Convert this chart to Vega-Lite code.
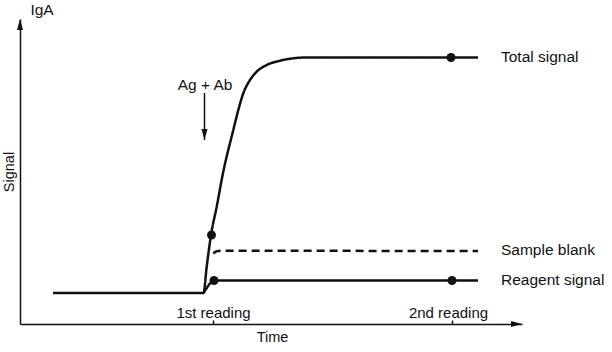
{
  "$schema": "https://vega.github.io/schema/vega-lite/v6.json",
  "width": 502,
  "height": 305,
  "autosize": {"type": "none"},
  "padding": {"left": 20, "top": 19, "right": 90, "bottom": 28},
  "config": {"font": "Liberation Sans", "view": {"stroke": null}},
  "datasets": {
    "curves": [
      {"series": "Total signal", "t": 33, "s": 31},
      {"series": "Total signal", "t": 183.5, "s": 31},
      {"series": "Total signal", "t": 186.7, "s": 57.3},
      {"series": "Total signal", "t": 191, "s": 89},
      {"series": "Total signal", "t": 196.7, "s": 117.3},
      {"series": "Total signal", "t": 203, "s": 151},
      {"series": "Total signal", "t": 213.3, "s": 194},
      {"series": "Total signal", "t": 218.3, "s": 214},
      {"series": "Total signal", "t": 223.3, "s": 230.7},
      {"series": "Total signal", "t": 230, "s": 244},
      {"series": "Total signal", "t": 236.7, "s": 252.3},
      {"series": "Total signal", "t": 246.7, "s": 259},
      {"series": "Total signal", "t": 260, "s": 263.3},
      {"series": "Total signal", "t": 273.3, "s": 265.7},
      {"series": "Total signal", "t": 286.7, "s": 266.5},
      {"series": "Total signal", "t": 458, "s": 266.5},
      {"series": "Sample blank", "t": 193.3, "s": 70.5},
      {"series": "Sample blank", "t": 196.7, "s": 72.7},
      {"series": "Sample blank", "t": 201, "s": 73.2},
      {"series": "Sample blank", "t": 458, "s": 73},
      {"series": "Reagent signal", "t": 183.5, "s": 31},
      {"series": "Reagent signal", "t": 186.7, "s": 36},
      {"series": "Reagent signal", "t": 190, "s": 40.5},
      {"series": "Reagent signal", "t": 194, "s": 43.5},
      {"series": "Reagent signal", "t": 458, "s": 43.5}
    ],
    "readings": [
      {"series": "Total signal", "reading": "1st", "t": 191.5, "s": 89},
      {"series": "Total signal", "reading": "2nd", "t": 431, "s": 266.5},
      {"series": "Reagent signal", "reading": "1st", "t": 194, "s": 43.5},
      {"series": "Reagent signal", "reading": "2nd", "t": 432, "s": 43.5}
    ],
    "notes": [
      {"label": "IgA", "t": 22, "s": 314},
      {"label": "Ag + Ab", "t": 185, "s": 239}
    ],
    "arrows": [
      {"dir": "up", "t": 0, "s": 305},
      {"dir": "right", "t": 502, "s": 0},
      {"dir": "down", "t": 184.5, "s": 184, "s2": 231}
    ]
  },
  "layer": [
    {
      "data": {"name": "curves"},
      "mark": {"type": "line", "interpolate": "monotone", "strokeWidth": 2.5, "color": "#111"},
      "encoding": {
        "x": {
          "field": "t", "type": "quantitative",
          "scale": {"domain": [0, 502], "nice": false, "zero": false},
          "axis": {
            "title": "Time", "values": [193, 432],
            "labelExpr": "datum.value < 300 ? '1st reading' : '2nd reading'",
            "grid": false, "domainColor": "#111", "domainWidth": 1.5,
            "tickColor": "#111", "tickWidth": 1.5, "tickSize": -4,
            "labelPadding": -8, "labelBaseline": "middle", "labelFontSize": 15,
            "labelColor": "#111", "labelOverlap": false, "labelFlush": false,
            "labelOffset": {"condition": {"test": "datum.value > 300", "value": -4}, "value": 0},
            "titleFontSize": 14.5, "titleFontWeight": "normal", "titleColor": "#111",
            "titleY": 13, "titleBaseline": "middle", "titleX": 252
          }
        },
        "y": {
          "field": "s", "type": "quantitative",
          "scale": {"domain": [0, 305], "nice": false, "zero": false},
          "axis": {
            "title": "Signal", "labels": false, "ticks": false, "grid": false,
            "domainColor": "#111", "domainWidth": 1.5,
            "titleFontSize": 14.5, "titleFontWeight": "normal", "titleColor": "#111",
            "titleX": -11, "titleBaseline": "middle"
          }
        },
        "detail": {"field": "series"},
        "strokeDash": {
          "field": "series", "type": "nominal",
          "scale": {"domain": ["Total signal", "Sample blank", "Reagent signal"], "range": [[1, 0], [8, 5], [1, 0]]},
          "legend": null
        }
      }
    },
    {
      "data": {"name": "readings"},
      "mark": {"type": "point", "filled": true, "size": 80, "color": "#111", "opacity": 1},
      "encoding": {
        "x": {"field": "t", "type": "quantitative"},
        "y": {"field": "s", "type": "quantitative"}
      }
    },
    {
      "data": {"name": "curves"},
      "transform": [
        {"joinaggregate": [{"op": "max", "field": "t", "as": "tmax"}], "groupby": ["series"]},
        {"filter": "datum.t == datum.tmax"}
      ],
      "mark": {"type": "text", "align": "left", "baseline": "middle", "dx": 23, "dy": -1, "fontSize": 15.5, "color": "#111"},
      "encoding": {
        "x": {"field": "t", "type": "quantitative"},
        "y": {"field": "s", "type": "quantitative"},
        "text": {"field": "series"}
      }
    },
    {
      "data": {"name": "notes"},
      "mark": {"type": "text", "align": "center", "baseline": "middle", "fontSize": 15.5, "color": "#111"},
      "encoding": {
        "x": {"field": "t", "type": "quantitative"},
        "y": {"field": "s", "type": "quantitative"},
        "text": {"field": "label"}
      }
    },
    {
      "data": {"name": "arrows"},
      "transform": [{"filter": "datum.dir == 'down'"}],
      "mark": {"type": "rule", "strokeWidth": 1.5, "color": "#111"},
      "encoding": {
        "x": {"field": "t", "type": "quantitative"},
        "y": {"field": "s", "type": "quantitative"},
        "y2": {"field": "s2"}
      }
    },
    {
      "data": {"name": "arrows"},
      "transform": [{"filter": "datum.dir == 'up'"}],
      "mark": {"type": "point", "filled": true, "size": 25, "color": "#111", "opacity": 1, "shape": "M0,0L-1.2,4.4L1.2,4.4Z"},
      "encoding": {
        "x": {"field": "t", "type": "quantitative"},
        "y": {"field": "s", "type": "quantitative"}
      }
    },
    {
      "data": {"name": "arrows"},
      "transform": [{"filter": "datum.dir == 'right'"}],
      "mark": {"type": "point", "filled": true, "size": 25, "color": "#111", "opacity": 1, "shape": "M0,0L-4.4,-1.2L-4.4,1.2Z"},
      "encoding": {
        "x": {"field": "t", "type": "quantitative"},
        "y": {"field": "s", "type": "quantitative"}
      }
    },
    {
      "data": {"name": "arrows"},
      "transform": [{"filter": "datum.dir == 'down'"}],
      "mark": {"type": "point", "filled": true, "size": 25, "color": "#111", "opacity": 1, "shape": "M0,0L-1.2,-4.4L1.2,-4.4Z"},
      "encoding": {
        "x": {"field": "t", "type": "quantitative"},
        "y": {"field": "s", "type": "quantitative"}
      }
    }
  ]
}
